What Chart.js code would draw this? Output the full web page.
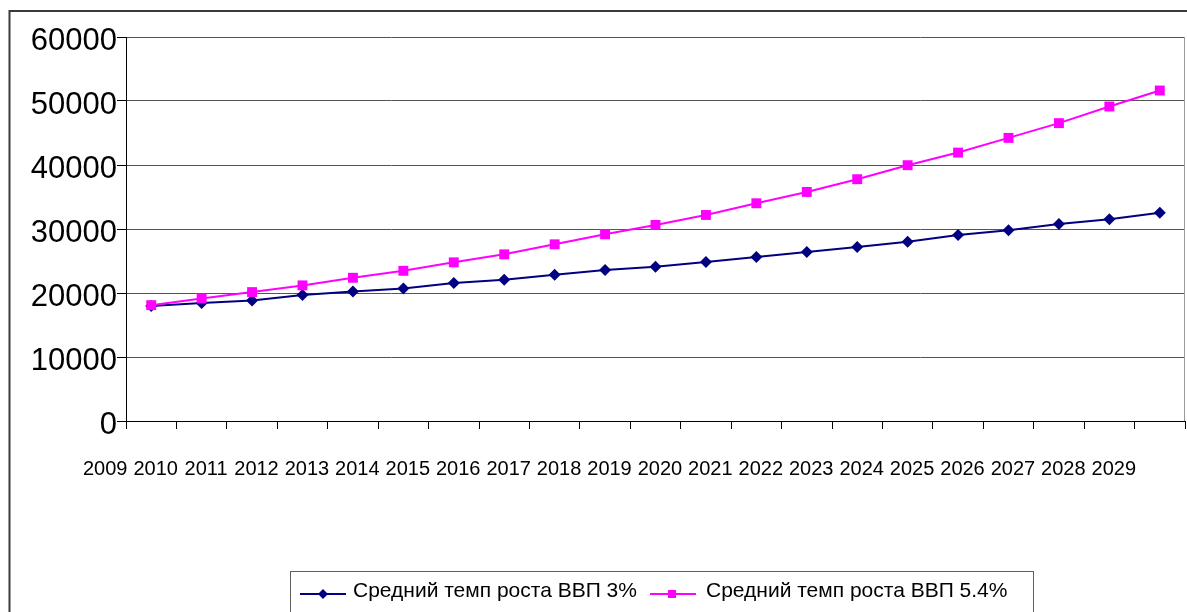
<!DOCTYPE html>
<html>
<head>
<meta charset="utf-8">
<script src="https://cdn.jsdelivr.net/npm/chart.js@4"></script>
<style>
  html, body { margin: 0; padding: 0; background: #fff; }
  #wrap { width: 1187px; height: 612px; position: relative; }
</style>
</head>
<body>
<div id="wrap"><canvas id="c" width="1187" height="612"></canvas></div>
<script>
const years = ['2009','2010','2011','2012','2013','2014','2015','2016','2017','2018','2019',
               '2020','2021','2022','2023','2024','2025','2026','2027','2028','2029'];
const gdp3 = [17950, 18420, 18840, 19670, 20250, 20720, 21550, 22070, 22850, 23580, 24100,
              24840, 25620, 26400, 27180, 28010, 29060, 29800, 30780, 31520, 32550];
const gdp54 = [18100, 19150, 20140, 21190, 22380, 23470, 24790, 26040, 27610, 29170, 30630,
               32190, 34020, 35790, 37780, 39970, 41940, 44240, 46540, 49140, 51640];
const seriesNames = ['Средний темп роста ВВП 3%', 'Средний темп роста ВВП 5.4%'];
const yTicks = [0, 10000, 20000, 30000, 40000, 50000, 60000];

const FONT = '"Liberation Sans", Arial, sans-serif';
const NAVY = '#000080';
const PINK = '#FF00FF';

const framePlugin = {
  id: 'frame',
  beforeDraw(chart) {
    const ctx = chart.ctx;
    ctx.save();
    ctx.fillStyle = '#fff';
    ctx.fillRect(0, 0, chart.width, chart.height);
    ctx.strokeStyle = '#3a3a3a';
    ctx.lineWidth = 2;
    ctx.strokeRect(9.5, 11, 1300, 800);
    ctx.restore();
  },
  afterDraw(chart) {
    const ctx = chart.ctx;
    const a = chart.chartArea;
    ctx.save();
    // right plot-area border
    ctx.strokeStyle = '#9a9a9a';
    ctx.lineWidth = 1;
    ctx.beginPath();
    ctx.moveTo(Math.round(a.right) - 0.5, a.top);
    ctx.lineTo(Math.round(a.right) - 0.5, a.bottom);
    ctx.stroke();

    // legend box
    ctx.strokeStyle = '#606060';
    ctx.lineWidth = 1;
    ctx.strokeRect(290.5, 571.5, 743, 80);

    const ly = 594;
    // item 1
    ctx.strokeStyle = NAVY;
    ctx.lineWidth = 2;
    ctx.beginPath(); ctx.moveTo(300, ly); ctx.lineTo(346, ly); ctx.stroke();
    ctx.fillStyle = NAVY;
    ctx.beginPath();
    ctx.moveTo(323, ly - 5); ctx.lineTo(328, ly); ctx.lineTo(323, ly + 5); ctx.lineTo(318, ly);
    ctx.closePath(); ctx.fill();
    // item 2
    ctx.strokeStyle = PINK;
    ctx.beginPath(); ctx.moveTo(650, ly); ctx.lineTo(696, ly); ctx.stroke();
    ctx.fillStyle = PINK;
    ctx.fillRect(668, ly - 4, 8, 8);

    ctx.fillStyle = '#000';
    ctx.font = '21px ' + FONT;
    ctx.textBaseline = 'alphabetic';
    ctx.textAlign = 'left';
    ctx.fillText(seriesNames[0], 353, 597);
    ctx.fillText(seriesNames[1], 706, 597);
    ctx.restore();
  }
};

new Chart(document.getElementById('c'), {
  type: 'line',
  data: {
    labels: years,
    datasets: [
      {
        label: seriesNames[0],
        data: gdp3,
        borderColor: NAVY,
        backgroundColor: NAVY,
        borderWidth: 2,
        pointStyle: 'rectRot',
        pointRadius: 6,
        pointBorderWidth: 0,
        pointBackgroundColor: NAVY,
        tension: 0,
        order: 1
      },
      {
        label: seriesNames[1],
        data: gdp54,
        borderColor: PINK,
        backgroundColor: PINK,
        borderWidth: 2,
        pointStyle: 'rect',
        pointRadius: 7,
        pointBorderWidth: 0,
        pointBackgroundColor: PINK,
        tension: 0,
        order: 0
      }
    ]
  },
  options: {
    responsive: false,
    animation: false,
    devicePixelRatio: 1,
    layout: { autoPadding: false, padding: { top: 37, right: 2, bottom: 0, left: 0 } },
    plugins: {
      legend: { display: false },
      tooltip: { enabled: false },
      title: { display: false }
    },
    scales: {
      x: {
        type: 'category',
        offset: true,
        grid: {
          display: true,
          offset: true,
          drawOnChartArea: false,
          drawTicks: true,
          tickLength: 8,
          color: '#000',
          tickColor: '#000'
        },
        border: { display: true, color: '#000', width: 1 },
        ticks: {
          autoSkip: false,
          maxRotation: 0,
          minRotation: 0,
          color: '#000',
          font: { family: FONT, size: 20 },
          padding: 28,
          labelOffset: -46
        },
        afterFit(s) { s.height = 191; s.paddingLeft = 0; s.paddingRight = 0; }
      },
      y: {
        min: 0,
        max: 60000,
        afterBuildTicks(s) { s.ticks = yTicks.map(v => ({ value: v })); },
        grid: {
          color: '#555',
          lineWidth: 1,
          drawTicks: true,
          tickLength: 9,
          tickColor: '#000'
        },
        border: { display: true, color: '#000', width: 1 },
        ticks: {
          color: '#000',
          font: { family: FONT, size: 31 },
          padding: 0,
          labelOffset: 4,
          callback: (v) => String(v)
        },
        afterFit(s) { s.width = 126; }
      }
    }
  },
  plugins: [framePlugin]
});
</script>
</body>
</html>
